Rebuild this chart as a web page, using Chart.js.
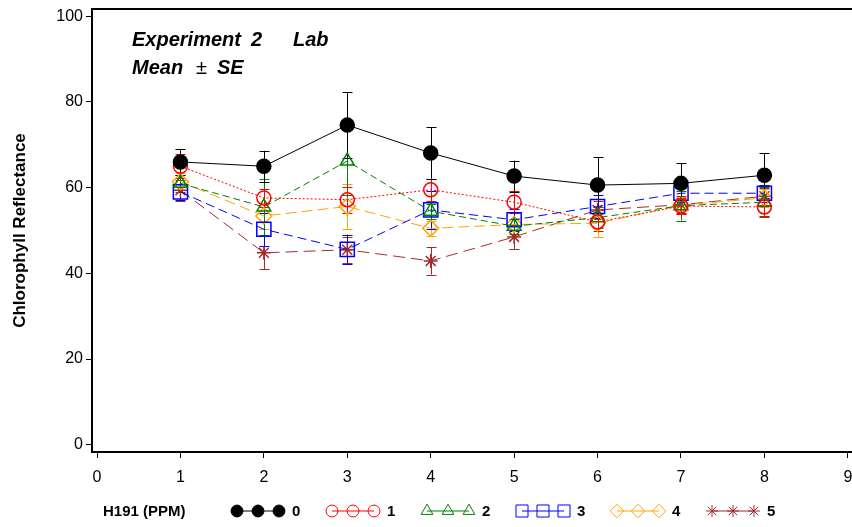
<!DOCTYPE html>
<html>
<head>
<meta charset="utf-8">
<script src="https://cdn.jsdelivr.net/npm/chart.js@4.4.0/dist/chart.umd.min.js"></script>
<style>
  html, body { margin: 0; padding: 0; background: #fff; }
</style>
</head>
<body>
<canvas id="reflectChart" width="852" height="527"></canvas>
<script>
// Days / sampling times on the x axis
const xValues = [1, 2, 3, 4, 5, 6, 7, 8];
const xTicks = [0, 1, 2, 3, 4, 5, 6, 7, 8, 9];
const yTicks = [0, 20, 40, 60, 80, 100];

// H191 dose groups (PPM)
const doseLabels = ['0', '1', '2', '3', '4', '5'];

// mean chlorophyll reflectance per dose
const mean0 = [66.0, 65.0, 74.6, 68.1, 62.7, 60.6, 61.0, 62.9];
const mean1 = [65.0, 57.6, 57.2, 59.5, 56.6, 52.0, 55.7, 55.5];
const mean2 = [61.0, 55.5, 66.2, 54.5, 51.0, 53.0, 55.8, 56.6];
const mean3 = [59.0, 50.3, 45.6, 54.8, 52.5, 55.6, 58.7, 58.7];
const mean4 = [61.4, 53.4, 55.6, 50.5, 51.4, 51.7, 55.9, 57.6];
const mean5 = [59.4, 44.8, 45.5, 42.9, 48.5, 54.8, 56.0, 58.0];

// standard errors
const se0 = [3.0, 3.6, 7.7, 6.0, 3.6, 6.5, 4.7, 5.2];
const se1 = [2.8, 2.2, 3.0, 2.6, 2.6, 2.0, 1.8, 2.2];
const se2 = [2.0, 6.5, 8.0, 1.8, 1.8, 2.5, 3.5, 3.5];
const se3 = [1.8, 3.9, 3.4, 4.5, 2.5, 2.6, 2.0, 2.0];
const se4 = [2.0, 3.0, 5.2, 1.8, 2.8, 3.2, 2.0, 2.0];
const se5 = [2.5, 3.8, 3.0, 3.2, 2.8, 2.0, 2.0, 2.0];

const means = [mean0, mean1, mean2, mean3, mean4, mean5];
const errors = [se0, se1, se2, se3, se4, se5];

const colors = ['#000000', '#ff0000', '#008000', '#0000ff', '#ffa500', '#a52a2a'];
const styles = ['circle', 'circle', 'triangle', 'rect', 'rectRot', 'star'];
const radii = [7, 7, 8, 10, 8, 7];
const dashes = [[], [2, 2], [7, 4], [9, 5], [11, 5], [12, 6]];

const FONT = "'Liberation Sans', Arial, sans-serif";

const datasets = means.map((m, i) => ({
    label: doseLabels[i],
    data: m.map((v, j) => ({ x: xValues[j], y: v })),
    borderColor: colors[i],
    backgroundColor: i === 0 ? '#000000' : 'rgba(0,0,0,0)',
    pointBorderColor: colors[i],
    pointBackgroundColor: i === 0 ? '#000000' : 'rgba(0,0,0,0)',
    borderWidth: 1,
    borderDash: dashes[i],
    pointStyle: styles[i],
    pointRadius: radii[i],
    pointBorderWidth: 1.5,
    tension: 0
}));

// vertical mean +/- SE bars with caps
const errorBars = {
    id: 'errorBars',
    beforeDatasetsDraw(chart) {
        const ctx = chart.ctx;
        const xs = chart.scales.x, ys = chart.scales.y;
        ctx.save();
        ctx.lineWidth = 1;
        for (let i = means.length - 1; i >= 0; i--) {
            ctx.strokeStyle = colors[i];
            means[i].forEach((v, j) => {
                const px = Math.round(xs.getPixelForValue(xValues[j])) + 0.5;
                const hi = ys.getPixelForValue(v + errors[i][j]);
                const lo = ys.getPixelForValue(v - errors[i][j]);
                ctx.beginPath();
                ctx.moveTo(px, hi); ctx.lineTo(px, lo);
                ctx.moveTo(px - 5, Math.round(hi) + 0.5); ctx.lineTo(px + 5, Math.round(hi) + 0.5);
                ctx.moveTo(px - 5, Math.round(lo) + 0.5); ctx.lineTo(px + 5, Math.round(lo) + 0.5);
                ctx.stroke();
            });
        }
        ctx.restore();
    }
};

// axis frame, caption and bottom legend
const decorations = {
    id: 'decorations',
    afterDraw(chart) {
        const ctx = chart.ctx;
        const a = chart.chartArea;
        ctx.save();
        ctx.strokeStyle = '#000';
        ctx.lineWidth = 2;
        ctx.beginPath();
        ctx.moveTo(chart.width, a.top);
        ctx.lineTo(a.left, a.top);
        ctx.lineTo(a.left, a.bottom);
        ctx.lineTo(chart.width, a.bottom);
        ctx.stroke();

        // caption
        ctx.fillStyle = '#000';
        ctx.textBaseline = 'alphabetic';
        ctx.textAlign = 'left';
        const bi = 'italic bold 20px ' + FONT;
        ctx.font = bi;
        ctx.fillText('Experiment', 132, 46);
        ctx.fillText('2', 251, 46);
        ctx.fillText('Lab', 293, 46);
        ctx.fillText('Mean', 132, 74);
        ctx.font = '20px ' + FONT;
        ctx.fillText('\u00b1', 196, 74);
        ctx.font = bi;
        ctx.fillText('SE', 217, 74);

        // legend
        const ly = 511;
        ctx.font = 'bold 15px ' + FONT;
        ctx.textBaseline = 'middle';
        ctx.fillText('H191 (PPM)', 103, ly + 1);
        chart.data.datasets.forEach((ds, i) => {
            const x0 = 231 + i * 95;
            ctx.strokeStyle = colors[i];
            ctx.lineWidth = 1;
            ctx.setLineDash([]);
            ctx.beginPath();
            ctx.moveTo(x0 + 6, ly); ctx.lineTo(x0 + 48, ly);
            ctx.stroke();
            for (let k = 0; k < 3; k++) {
                ctx.fillStyle = i === 0 ? '#000' : 'rgba(0,0,0,0)';
                ctx.strokeStyle = colors[i];
                ctx.lineWidth = 1;
                Chart.helpers.drawPoint(ctx, {
                    pointStyle: styles[i],
                    radius: radii[i] * 0.85,
                    rotation: 0,
                    borderWidth: 1
                }, x0 + 6 + k * 21, ly);
            }
            ctx.fillStyle = '#000';
            ctx.font = 'bold 15px ' + FONT;
            ctx.fillText(ds.label, x0 + 61, ly + 1);
        });
        ctx.restore();
    }
};

new Chart(document.getElementById('reflectChart').getContext('2d'), {
    type: 'line',
    data: { datasets: datasets },
    options: {
        responsive: false,
        animation: false,
        layout: { autoPadding: false, padding: { top: 9, right: 0, left: 0, bottom: 0 } },
        plugins: {
            legend: { display: false },
            tooltip: { enabled: false }
        },
        scales: {
            x: {
                type: 'linear',
                min: -0.06,
                max: 9.05,
                afterBuildTicks: s => { s.ticks = xTicks.map(v => ({ value: v })); },
                afterFit: s => { s.height = 75; s.paddingLeft = 0; s.paddingRight = 0; },
                border: { display: false },
                grid: { drawOnChartArea: false, drawTicks: true, tickLength: 6, color: '#000', lineWidth: 1 },
                ticks: { color: '#000', font: { family: FONT, size: 16 }, padding: 10, maxRotation: 0, autoSkip: false }
            },
            y: {
                min: -1.7,
                max: 101.7,
                afterBuildTicks: s => { s.ticks = yTicks.map(v => ({ value: v })); },
                afterFit: s => { s.width = 92; s.paddingTop = 0; s.paddingBottom = 0; },
                border: { display: false },
                grid: { drawOnChartArea: false, drawTicks: true, tickLength: 6, color: '#000', lineWidth: 1 },
                ticks: { color: '#000', font: { family: FONT, size: 16 }, padding: 3 },
                title: {
                    display: true,
                    text: 'Chlorophyll Reflectance',
                    color: '#000',
                    font: { family: FONT, size: 17, weight: 'bold' },
                    padding: { top: 10, bottom: 0 }
                }
            }
        }
    },
    plugins: [errorBars, decorations]
});
</script>
</body>
</html>
